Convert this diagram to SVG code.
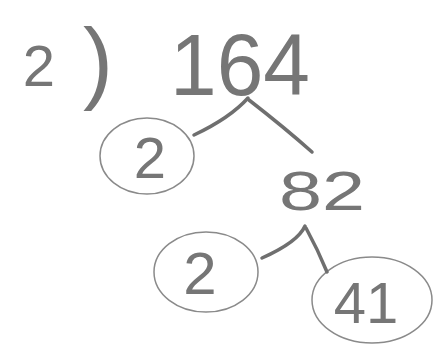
<svg xmlns="http://www.w3.org/2000/svg" width="436" height="347" viewBox="0 0 436 347">
<style>
.t{font-family:"Liberation Sans",Arial,sans-serif;fill:#767676;text-anchor:middle}
.c{fill:none;stroke:#8a8a8a;stroke-width:1.5}
.l{fill:none;stroke:#6f6f6f;stroke-width:3.5;stroke-linecap:round}
</style>
<rect width="436" height="347" fill="#fff"/>
<g id="label"><text class="t" x="39" y="86" font-size="58">2</text><text class="t" x="98" y="92" font-size="90">)</text></g>
<g id="n164"><text class="t" x="240" y="95" font-size="88" textLength="140" lengthAdjust="spacingAndGlyphs">164</text></g>
<g id="n2a"><ellipse class="c" cx="147" cy="156" rx="47" ry="38"/><text class="t" x="150" y="178" font-size="58">2</text></g>
<g id="n82"><text class="t" x="322" y="210" font-size="56" textLength="86" lengthAdjust="spacingAndGlyphs">82</text></g>
<g id="n2b"><ellipse class="c" cx="206" cy="272" rx="52" ry="40"/><text class="t" x="200" y="294" font-size="60">2</text></g>
<g id="n41"><ellipse class="c" cx="372" cy="300" rx="60" ry="43"/><text class="t" x="366" y="323" font-size="58">41</text></g>
<g id="connectors">
<path class="l" d="M248 98 Q230 118 194 135"/>
<path class="l" d="M249 100 Q285 128 312 152"/>
<path class="l" d="M305 226 Q298 242 262 258"/>
<path class="l" d="M306 228 Q318 250 327 272"/>
</g>
</svg>
